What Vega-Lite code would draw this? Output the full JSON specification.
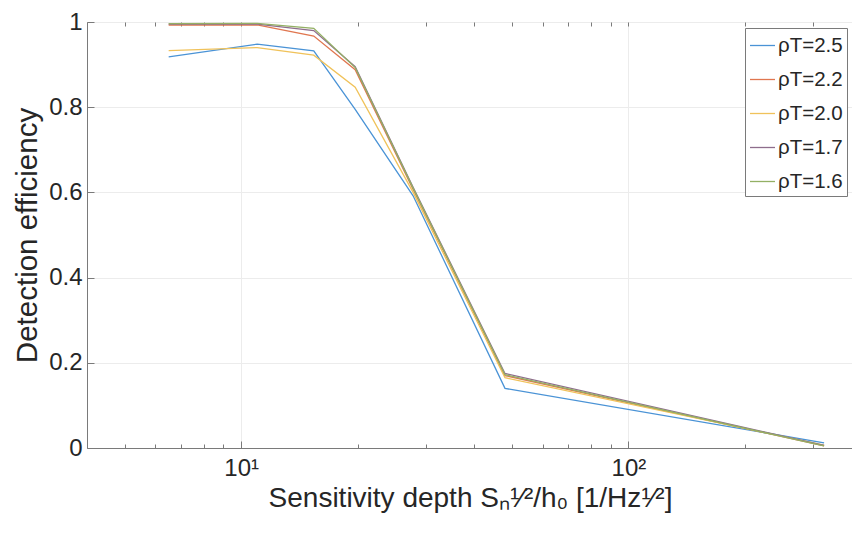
{
  "$schema": "https://vega.github.io/schema/vega-lite/v6.json",
  "width": 766,
  "height": 426,
  "autosize": {"type": "none"},
  "padding": {"left": 87, "top": 22, "right": 0, "bottom": 93},
  "background": "white",
  "config": {
    "font": "Liberation Sans",
    "view": {"stroke": "#7a7a7a", "strokeWidth": 1},
    "axis": {
      "domainColor": "#7a7a7a",
      "tickColor": "#7a7a7a",
      "gridColor": "#ececec",
      "labelColor": "#262626",
      "titleColor": "#262626",
      "labelFont": "Liberation Sans",
      "titleFont": "Liberation Sans",
      "titleFontWeight": "normal"
    }
  },
  "data": {
    "values": [
      {"x": 6.5, "rho": "2.5", "e": 0.918},
      {"x": 11, "rho": "2.5", "e": 0.948},
      {"x": 15.4, "rho": "2.5", "e": 0.932},
      {"x": 19.7, "rho": "2.5", "e": 0.795},
      {"x": 27.8, "rho": "2.5", "e": 0.592},
      {"x": 48, "rho": "2.5", "e": 0.14},
      {"x": 320, "rho": "2.5", "e": 0.012},
      {"x": 6.5, "rho": "2.2", "e": 0.993},
      {"x": 11, "rho": "2.2", "e": 0.993},
      {"x": 15.4, "rho": "2.2", "e": 0.967},
      {"x": 19.7, "rho": "2.2", "e": 0.888},
      {"x": 27.8, "rho": "2.2", "e": 0.607},
      {"x": 48, "rho": "2.2", "e": 0.17},
      {"x": 320, "rho": "2.2", "e": 0.005},
      {"x": 6.5, "rho": "2.0", "e": 0.933},
      {"x": 11, "rho": "2.0", "e": 0.94},
      {"x": 15.4, "rho": "2.0", "e": 0.922},
      {"x": 19.7, "rho": "2.0", "e": 0.847},
      {"x": 27.8, "rho": "2.0", "e": 0.6},
      {"x": 48, "rho": "2.0", "e": 0.165},
      {"x": 320, "rho": "2.0", "e": 0.007},
      {"x": 6.5, "rho": "1.7", "e": 0.995},
      {"x": 11, "rho": "1.7", "e": 0.995},
      {"x": 15.4, "rho": "1.7", "e": 0.98},
      {"x": 19.7, "rho": "1.7", "e": 0.895},
      {"x": 27.8, "rho": "1.7", "e": 0.612},
      {"x": 48, "rho": "1.7", "e": 0.175},
      {"x": 320, "rho": "1.7", "e": 0.006},
      {"x": 6.5, "rho": "1.6", "e": 0.996},
      {"x": 11, "rho": "1.6", "e": 0.997},
      {"x": 15.4, "rho": "1.6", "e": 0.985},
      {"x": 19.7, "rho": "1.6", "e": 0.893},
      {"x": 27.8, "rho": "1.6", "e": 0.61},
      {"x": 48, "rho": "1.6", "e": 0.172},
      {"x": 320, "rho": "1.6", "e": 0.005}
    ]
  },
  "layer": [
    {
      "mark": {"type": "line", "strokeWidth": 1.3},
      "encoding": {
        "x": {
          "field": "x",
          "type": "quantitative",
          "scale": {"type": "log", "domain": [4, 380], "nice": false},
          "axis": {
            "orient": "bottom",
            "values": [10, 100],
            "labelExpr": "datum.value == 10 ? '10¹' : '10²'",
            "labelFontSize": 24,
            "labelPadding": 15,
            "tickSize": -7,
            "grid": true,
            "title": "Sensitivity depth Sₙ¹⁄²/h₀ [1/Hz¹⁄²]",
            "titleFontSize": 28,
            "titlePadding": 4
          }
        },
        "y": {
          "field": "e",
          "type": "quantitative",
          "scale": {"domain": [0, 1], "nice": false},
          "axis": {
            "orient": "left",
            "values": [0, 0.2, 0.4, 0.6, 0.8, 1],
            "labelExpr": "datum.value == 0 ? '0' : datum.value == 1 ? '1' : format(datum.value, '.1f')",
            "labelFontSize": 24,
            "labelPadding": 12,
            "tickSize": -7,
            "grid": true,
            "title": "Detection efficiency",
            "titleFontSize": 29.5,
            "titlePadding": 6
          }
        },
        "color": {
          "field": "rho",
          "type": "nominal",
          "scale": {
            "domain": ["2.5", "2.2", "2.0", "1.7", "1.6"],
            "range": ["#4a93d6", "#e0764f", "#f0c25a", "#8e6d8c", "#93b064"]
          },
          "legend": {
            "orient": "top-right",
            "offset": 6,
            "title": null,
            "labelExpr": "'ρT=' + datum.label",
            "labelFontSize": 20.5,
            "labelColor": "#262626",
            "symbolType": "stroke",
            "symbolSize": 625,
            "symbolStrokeWidth": 1.3,
            "rowPadding": 10,
            "labelOffset": 2,
            "padding": 4,
            "strokeColor": "#7a7a7a",
            "fillColor": "white"
          }
        }
      }
    },
    {
      "mark": {"type": "line", "opacity": 0},
      "encoding": {
        "detail": {"field": "rho"},
        "x": {
          "field": "x",
          "type": "quantitative",
          "scale": {"type": "log", "domain": [4, 380], "nice": false},
          "axis": {
            "orient": "bottom",
            "values": [5, 6, 7, 8, 9, 20, 30, 40, 50, 60, 70, 80, 90, 200, 300],
            "labels": false,
            "domain": false,
            "grid": false,
            "tickSize": -4,
            "title": null
          }
        },
        "y": {"field": "e", "type": "quantitative", "axis": null}
      }
    },
    {
      "mark": {"type": "line", "opacity": 0},
      "encoding": {
        "detail": {"field": "rho"},
        "x": {
          "field": "x",
          "type": "quantitative",
          "scale": {"type": "log", "domain": [4, 380], "nice": false},
          "axis": {
            "orient": "top",
            "values": [5, 6, 7, 8, 9, 10, 20, 30, 40, 50, 60, 70, 80, 90, 100, 200, 300],
            "labels": false,
            "domain": false,
            "grid": false,
            "tickSize": -4,
            "title": null
          }
        },
        "y": {"field": "e", "type": "quantitative", "axis": null}
      }
    }
  ],
  "resolve": {"axis": {"x": "independent", "y": "independent"}}
}
